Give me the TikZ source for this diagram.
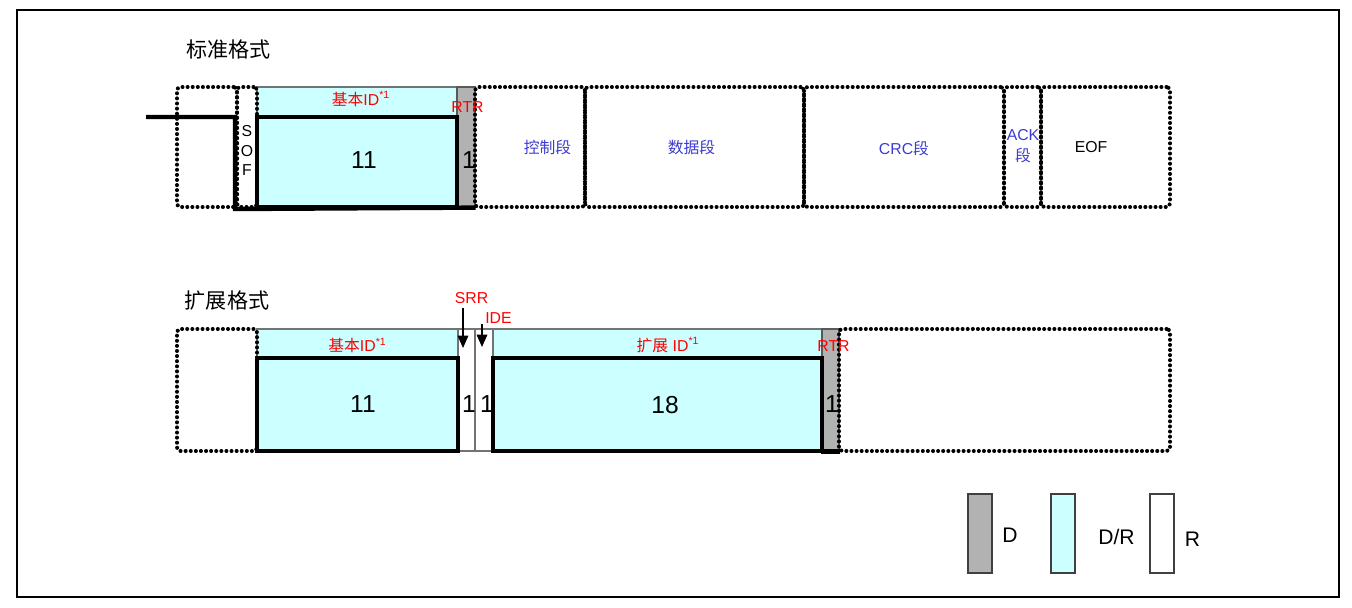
\documentclass[tikz,border=0pt]{standalone}
\usepackage{fontspec}
\setmainfont{Liberation Sans}
\newfontfamily\cjk{Noto Sans CJK SC}
\usepackage{tikz}
\usetikzlibrary{arrows.meta}

\definecolor{idcyan}{RGB}{204,255,255}
\definecolor{domgray}{RGB}{178,178,178}
\definecolor{segblue}{RGB}{60,60,210}

\begin{document}
\begin{tikzpicture}[
    dotbox/.style={rectangle, draw, line width=2.3pt, dash pattern=on 0pt off 2.9pt, line cap=round, rounded corners=2pt, inner sep=0pt},
    hdrbox/.style={rectangle, draw=black!55, line width=0.7pt, fill=idcyan, inner sep=0pt},
    idbox/.style={rectangle, draw, line width=2.5pt, fill=idcyan, inner sep=0pt},
    dombox/.style={rectangle, draw=black!65, line width=0.7pt, fill=domgray, inner sep=0pt},
    recbox/.style={rectangle, draw=black!55, line width=0.7pt, fill=white, inner sep=0pt},
    keybox/.style={rectangle, draw=black!75, line width=0.8pt, minimum width=0.48cm, minimum height=1.58cm, inner sep=0pt},
    busline/.style={line width=2.5pt},
    title/.style={font=\cjk\fontsize{12}{14}\selectfont, inner sep=0pt},
    redlbl/.style={text=red, font=\fontsize{9}{10}\selectfont, inner sep=0pt},
    seglbl/.style={text=segblue, font=\fontsize{9}{12}\selectfont, inner sep=0pt},
    numlbl/.style={font=\fontsize{14}{16}\selectfont, inner sep=0pt},
    keylbl/.style={font=\fontsize{12}{14}\selectfont, inner sep=0pt},
    arrow/.style={-{Triangle[length=7pt, width=6pt]}, line width=0.8pt}
  ]
    \useasboundingbox (0,0) rectangle (27.04,-12.16);
    \draw[line width=1.1pt] (0.34,-0.2) rectangle (26.78,-11.94);

    % Standard format
    \node[title] (stdtitle) at (4.57,-1.0) {标准格式};
    \node[hdrbox, minimum width=4.0cm, minimum height=0.6cm] (stdbasehdr) at (7.14,-2.04) {};
    \node[dombox, minimum width=0.36cm, minimum height=2.4cm] (stdrtr) at (9.32,-2.94) {};
    \node[idbox, minimum width=4.0cm, minimum height=1.8cm] (stdbase) at (7.14,-3.24) {};
    \coordinate (busin) at (2.92,-2.34);

    % fields after the identifier
    \node[dotbox, minimum width=1.2cm, minimum height=2.4cm] (stdlead) at (4.14,-2.94) {};
    \node[dotbox, minimum width=0.4cm, minimum height=2.4cm] (stdsof) at (4.94,-2.94) {};
    \node[dotbox, minimum width=2.2cm, minimum height=2.4cm] (stdctrl) at (10.6,-2.94) {};
    \node[dotbox, minimum width=4.38cm, minimum height=2.4cm] (stddata) at (13.89,-2.94) {};
    \node[dotbox, minimum width=4.0cm, minimum height=2.4cm] (stdcrc) at (18.08,-2.94) {};
    \node[dotbox, minimum width=0.74cm, minimum height=2.4cm] (stdack) at (20.45,-2.94) {};
    \node[dotbox, minimum width=2.58cm, minimum height=2.4cm] (stdeof) at (22.11,-2.94) {};
    \draw[busline] (busin) -- (busin -| stdsof.west) -- (stdsof.south west) -- (stdrtr.south east);

    \node[redlbl] (stdbaselbl) at (7.22,-1.98) {{\cjk 基本}ID\textsuperscript{*1}};
    \node[redlbl] (stdrtrlbl) at (9.35,-2.15) {RTR};
    \node[numlbl] (stdbasenum) at (7.28,-3.2) {11};
    \node[numlbl] (stdrtrnum) at (9.38,-3.2) {1};
    \node[align=center, font=\fontsize{9}{11.1}\selectfont, inner sep=0pt] (softxt) at (4.94,-3.01) {S\\O\\F};
    \node[seglbl, font=\cjk\fontsize{9}{12}\selectfont] (ctrltxt) at (10.95,-2.95) {控制段};
    \node[seglbl, font=\cjk\fontsize{9}{12}\selectfont] (datatxt) at (13.83,-2.95) {数据段};
    \node[seglbl] (crctxt) at (18.08,-2.96) {CRC{\cjk 段}};
    \node[seglbl, align=center] (acktxt) at (20.46,-2.93) {ACK\\{\cjk 段}};
    \node[font=\fontsize{9}{10}\selectfont, inner sep=0pt] (eoftxt) at (21.82,-2.95) {EOF};

    % Extended format
    \node[title] (exttitle) at (4.54,-6.02) {扩展格式};
    \node[hdrbox, minimum width=4.02cm, minimum height=0.58cm] (extbasehdr) at (7.15,-6.87) {};
    \node[recbox, minimum width=0.34cm, minimum height=2.44cm] (extsrr) at (9.33,-7.8) {};
    \node[recbox, minimum width=0.36cm, minimum height=2.44cm] (extide) at (9.68,-7.8) {};
    \node[hdrbox, minimum width=6.58cm, minimum height=0.58cm] (extidhdr) at (13.15,-6.87) {};
    \node[dombox, minimum width=0.34cm, minimum height=2.44cm] (extrtr) at (16.61,-7.8) {};
    \node[idbox, minimum width=4.02cm, minimum height=1.86cm] (extbase) at (7.15,-8.09) {};
    \node[idbox, minimum width=6.58cm, minimum height=1.86cm] (extid) at (13.15,-8.09) {};
    \draw[busline] (extrtr.south west) -- (extrtr.south east);
    \node[dotbox, minimum width=1.6cm, minimum height=2.44cm] (extlead) at (4.34,-7.8) {};
    \node[dotbox, minimum width=6.62cm, minimum height=2.44cm] (exttail) at (20.09,-7.8) {};

    \node[redlbl] (extbaselbl) at (7.15,-6.91) {{\cjk 基本}ID\textsuperscript{*1}};
    \node[redlbl] (extidlbl) at (13.36,-6.9) {{\cjk 扩展} ID\textsuperscript{*1}};
    \node[redlbl] (extrtrlbl) at (16.67,-6.92) {RTR};
    \node[redlbl] (srrlbl) at (9.43,-5.97) {SRR};
    \node[redlbl] (idelbl) at (9.97,-6.37) {IDE};
    \node[numlbl] (extbasenum) at (7.26,-8.08) {11};
    \node[numlbl] (extsrrnum) at (9.38,-8.08) {1};
    \node[numlbl] (extidenum) at (9.74,-8.08) {1};
    \node[numlbl] (extidnum) at (13.3,-8.1) {18};
    \node[numlbl] (extrtrnum) at (16.64,-8.08) {1};

    % SRR / IDE pointers
    \coordinate (srrtip) at (9.26,-6.96);
    \coordinate (idetip) at (9.64,-6.94);
    \draw[arrow] ([yshift=-2pt]srrlbl.south -| srrtip) -- (srrtip);
    \draw[arrow] (idelbl.south west -| idetip) -- (idetip);

    % Legend
    \node[keybox, fill=domgray] (keyd) at (19.6,-10.67) {};
    \node[keybox, fill=idcyan] (keydr) at (21.26,-10.67) {};
    \node[keybox, fill=white] (keyr) at (23.24,-10.67) {};
    \node[keylbl] (keydlbl) at (20.2,-10.71) {D};
    \node[keylbl] (keydrlbl) at (22.33,-10.73) {D/R};
    \node[keylbl] (keyrlbl) at (23.85,-10.78) {R};

  \end{tikzpicture}
\end{document}
